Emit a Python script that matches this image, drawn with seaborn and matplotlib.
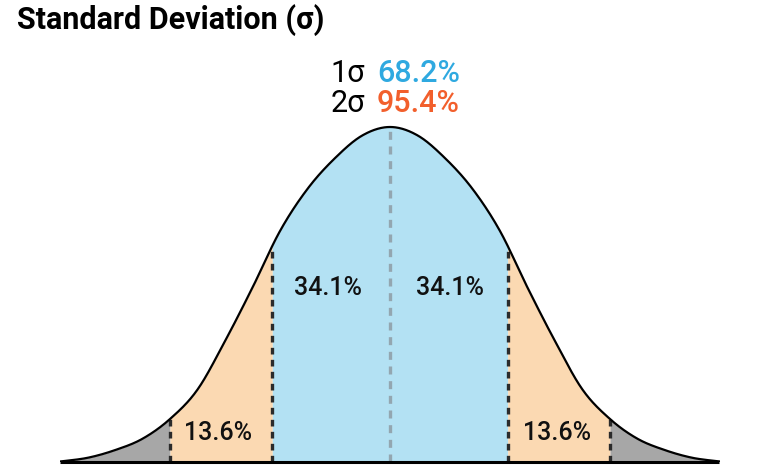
import numpy as np
import matplotlib
matplotlib.use("Agg")
import matplotlib.pyplot as plt
import seaborn as sns

# ---- data ----
# curve height (relative to peak) at z = 0, 0.25, ..., 3.0 (symmetric)
z_half = [0.0, 0.25, 0.5, 0.75, 1.0, 1.25, 1.5, 1.75, 2.0, 2.25, 2.5, 2.75, 3.0]
h_half = [1.0, 0.975, 0.907, 0.815, 0.689, 0.52, 0.360, 0.215, 0.127, 0.068, 0.034, 0.011, 0.0]
# band boundaries (sigma positions as drawn)
bounds = [-2.0, -1.07, 1.07, 2.0]
band_labels = ["13.6%", "34.1%", "34.1%", "13.6%"]
band_label_x = [-1.56, -0.56, 0.545, 1.52]
band_label_y = [0.085, 0.52, 0.52, 0.085]
summary_keys = ["1σ", "2σ"]
summary_vals = ["68.2%", "95.4%"]
title = "Standard Deviation (σ)"

BLUE_FILL = "#b3e1f3"
ORANGE_FILL = "#fbd9b2"
GREY_FILL = "#a7a7a7"
BLUE_TXT = "#2fa9e0"
ORANGE_TXT = "#f25f2c"

# full symmetric curve points
z_pts = np.array([-v for v in z_half[::-1]] + z_half[1:])
h_pts = np.array(h_half[::-1] + h_half[1:])

def catmull_rom(x, y, n=40):
    xs, ys = [], []
    P = np.column_stack([x, y])
    P = np.vstack([P[0], P, P[-1]])
    for i in range(1, len(P) - 2):
        p0, p1, p2, p3 = P[i - 1], P[i], P[i + 1], P[i + 2]
        t = np.linspace(0, 1, n, endpoint=False)[:, None]
        pts = 0.5 * ((2 * p1) + (-p0 + p2) * t + (2 * p0 - 5 * p1 + 4 * p2 - p3) * t ** 2
                     + (-p0 + 3 * p1 - 3 * p2 + p3) * t ** 3)
        xs.append(pts[:, 0]); ys.append(pts[:, 1])
    xs.append([x[-1]]); ys.append([y[-1]])
    return np.concatenate(xs), np.clip(np.concatenate(ys), 0, None)

xd, yd = catmull_rom(z_pts, h_pts)

sns.set_theme(style="white")
plt.rcParams["font.family"] = ["Roboto", "DejaVu Sans"]

W, H = 780, 470
fig = plt.figure(figsize=(W / 100, H / 100), dpi=100)
base_px = 461.5
ax = fig.add_axes([60 / W, (H - base_px) / H, 660 / W, base_px / H])
ax.set_xlim(-3, 3)
ax.set_ylim(0, base_px / 334.5)
ax.axis("off")

# fills
edges = [-3] + bounds + [3]
fills = [GREY_FILL, ORANGE_FILL, BLUE_FILL, ORANGE_FILL, GREY_FILL]
for (a, b), c in zip(zip(edges[:-1], edges[1:]), fills):
    m = (xd >= a - 1e-9) & (xd <= b + 1e-9)
    xs = np.concatenate([[a], xd[m], [b]])
    ys = np.concatenate([[np.interp(a, xd, yd)], yd[m], [np.interp(b, xd, yd)]])
    ax.fill_between(xs, 0, ys, color=c, lw=0, zorder=1)

# dashed boundaries
for b in bounds:
    ax.plot([b, b], [0, np.interp(b, xd, yd)], color="#2b2b2b", lw=2.4,
            dashes=(2.0, 1.6), zorder=3, solid_capstyle="butt")
ax.plot([0, 0], [0, 1.0], color="#93a6b0", lw=2.4, dashes=(2.4, 2.0), zorder=3)

# curve
sns.lineplot(x=xd, y=yd, ax=ax, color="black", lw=1.6, sort=False, zorder=4)
# baseline
ax.plot([-3, 2.99], [0, 0], color="black", lw=2.2, zorder=5, clip_on=False,
        solid_capstyle="butt")

# band labels
for lab, x, y in zip(band_labels, band_label_x, band_label_y):
    ax.text(x, y, lab, ha="center", va="center", fontsize=18, fontweight="medium",
            color="#111111", zorder=6)

# title
fig.text(17 / W, 1 - 20 / H, title, ha="left", va="center", fontsize=22,
         fontweight="bold", color="black")

# summary labels
for i, (k, v, c) in enumerate(zip(summary_keys, summary_vals, [BLUE_TXT, ORANGE_TXT])):
    yy = 1 - (74 + 29 * i) / H
    fig.text(365 / W, yy, k, ha="right", va="center", fontsize=22, color="black")
    fig.text(377 / W, yy, v, ha="left", va="center", fontsize=22, color=c,
             fontweight="medium")

fig.savefig("out.png", dpi=100)
